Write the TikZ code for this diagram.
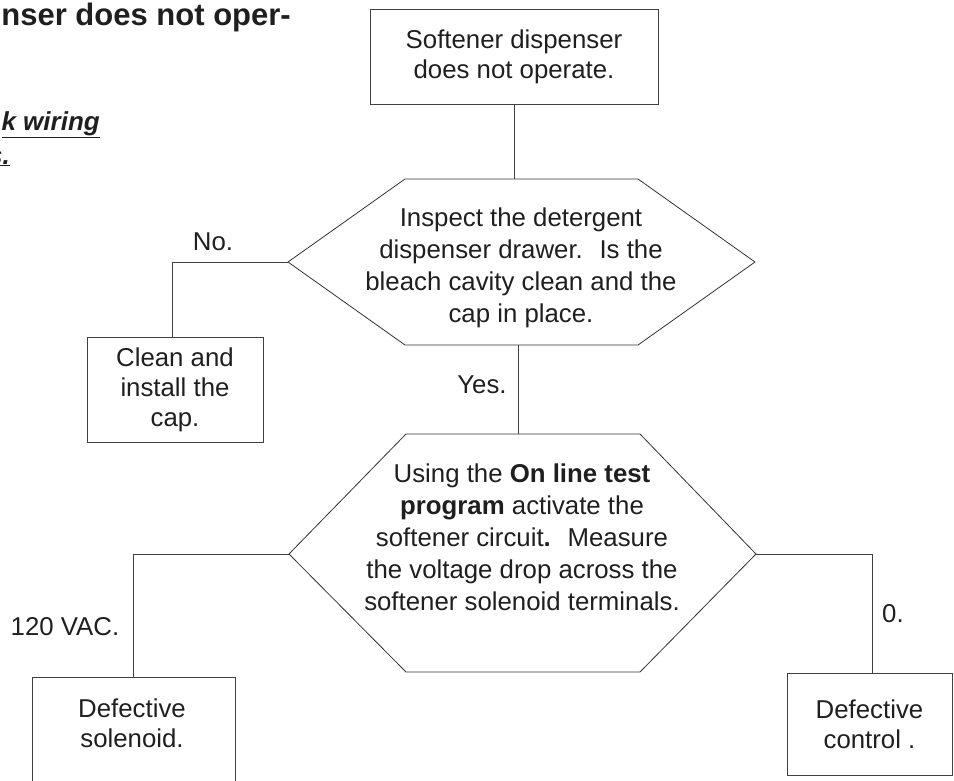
\documentclass[tikz,border=0pt]{standalone}
\usepackage{fontspec}
\setmainfont{Liberation Sans}
\begin{document}
\begin{tikzpicture}[x=1pt,y=-1pt,
  txt/.style={font=\fontsize{25.8}{30}\selectfont, text=black!88, inner sep=0pt, align=center},
  hextxt/.style={txt, font=\fontsize{25.8}{32}\selectfont},
  boxnode/.style={draw=black!75, line width=1pt, inner sep=0pt, txt},
  conn/.style={draw=black!75, line width=1pt},
  hexline/.style={draw=black!80, line width=0.8pt, line join=miter},
  lbl/.style={txt, anchor=base},
  headtxt/.style={inner sep=0pt, text=black!88, anchor=base east},
]
\useasboundingbox (0,0) rectangle (954,780);
\clip (0,0) rectangle (954,780);

% fragments of the page text at top left
\node[headtxt, font=\fontsize{31}{36}\selectfont\bfseries] (head) at (291,25) {nser does not oper-};
\node[headtxt, font=\fontsize{26}{30}\selectfont\bfseries\itshape] (wiring) at (100,130) {\underline{k wiring}};
\node[headtxt, font=\fontsize{26}{30}\selectfont\bfseries\itshape] (frag) at (10,164) {\underline{s.}};

% top box
\node[boxnode, minimum width=288, minimum height=95] (start) at (514,56.5) {Softener dispenser\\does not operate.};

% hexagon 1
\coordinate (h1L) at (288,262);
\coordinate (h1R) at (755,262);
\coordinate (h1T) at (514,179);
\coordinate (h1B) at (518,345);
\draw[hexline] (h1L) -- (405,179) -- (638,179) -- (h1R) -- (638,345) -- (405,345) -- cycle;
\node[hextxt] (q1) at (521,268) {Inspect the detergent\\dispenser drawer.~ Is the\\bleach cavity clean and the\\cap in place.};

% hexagon 2
\coordinate (h2L) at (289,554);
\coordinate (h2R) at (756,554);
\coordinate (h2T) at (518,434);
\draw[hexline] (h2L) -- (406,434) -- (640,434) -- (h2R) -- (640,672) -- (406,672) -- cycle;
\node[hextxt] (q2) at (522,537) {Using the \textbf{On line test}\\\textbf{program} activate the\\softener circuit\textbf{.}~ Measure\\the voltage drop across the\\softener solenoid terminals.};

% result boxes
\node[boxnode, minimum width=176, minimum height=105] (clean) at (175,389.5) {Clean and\\install the\\cap.};
\node[boxnode, minimum width=203, minimum height=130] (sol) at (133.5,742) {};
\node[txt, anchor=north] (soltxt) at (132,699) {Defective\\solenoid.};
\node[boxnode, minimum width=165, minimum height=102] (ctrl) at (869.5,724) {Defective\\control .};

% connectors
\draw[conn] (start.south) -- (h1T);
\draw[conn] (h1B) -- (h2T);
\draw[conn] (h1L) -| ([xshift=-3pt]clean.north);
\draw[conn] (h2L) -| (sol.north);
\draw[conn] (h2R) -| ([xshift=2.5pt]ctrl.north);

% branch labels
\node[lbl] (no) at (213,250) {No.};
\node[lbl] (yes) at (482,393) {Yes.};
\node[lbl] (vac) at (65,635) {120 VAC.};
\node[lbl] (zero) at (893,622) {0.};
\end{tikzpicture}
\end{document}
